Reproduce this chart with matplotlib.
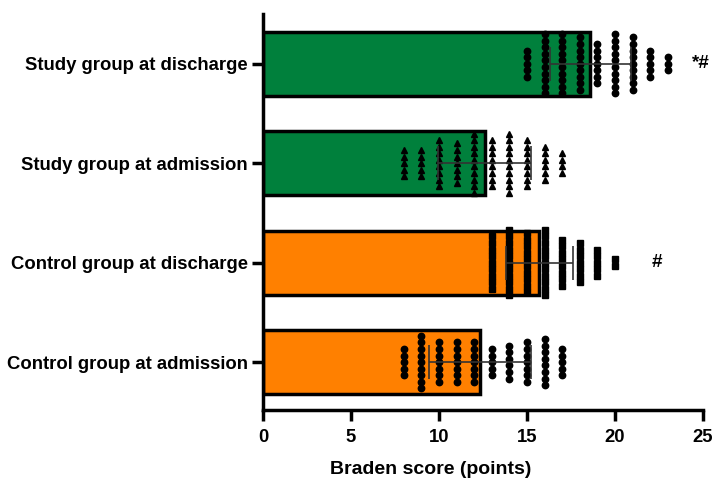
import numpy as np
import matplotlib.pyplot as plt

plt.rcParams['font.family'] = ['Liberation Sans', 'DejaVu Sans']

groups = ['Control group at admission', 'Control group at discharge',
          'Study group at admission', 'Study group at discharge']
means = [12.3, 15.7, 12.6, 18.6]
sds = [2.9, 1.9, 2.65, 2.3]
colors = ['#ff8000', '#ff8000', '#00803c', '#00803c']
notes = ['', '#', '', '*#']

# individual scores: value -> number of patients
ctrl_adm_scores = [8, 9, 10, 11, 12, 13, 14, 15, 16, 17]
ctrl_adm_counts = [5, 9, 7, 7, 7, 5, 6, 7, 8, 5]
ctrl_dis_scores = [13, 14, 15, 16, 17, 18, 19, 20]
ctrl_dis_counts = [9, 11, 10, 11, 8, 7, 5, 2]
study_adm_scores = [8, 9, 10, 11, 12, 13, 14, 15, 16, 17]
study_adm_counts = [5, 5, 8, 7, 10, 8, 10, 8, 6, 4]
study_dis_scores = [15, 16, 17, 18, 19, 20, 21, 22, 23]
study_dis_counts = [5, 10, 10, 9, 7, 10, 9, 5, 3]

points = [
    (ctrl_adm_scores, ctrl_adm_counts, 'o', 4.6),
    (ctrl_dis_scores, ctrl_dis_counts, 's', 5.0),
    (study_adm_scores, study_adm_counts, '^', 4.8),
    (study_dis_scores, study_dis_counts, 'o', 4.6),
]

fig = plt.figure(figsize=(7.13, 4.80), dpi=100)
ax = fig.add_axes([0.369, 0.146, 0.617, 0.825])

ypos = np.arange(len(groups))
ax.barh(ypos, means, height=0.64, color=colors, edgecolor='black',
        linewidth=2.5, zorder=1)

step = 0.066
for y, (scores, counts, mk, ms) in zip(ypos, points):
    for s, n in zip(scores, counts):
        offs = (np.arange(n) - (n - 1) / 2) * step
        ax.plot([s] * n, y + offs, linestyle='none', marker=mk,
                markersize=ms, color='black', zorder=3)

ax.errorbar(means, ypos, xerr=sds, fmt='none', ecolor='#333333',
            elinewidth=1.2, capsize=12, capthick=1.2, zorder=4)

for y, m, sd, t in zip(ypos, means, sds, notes):
    if t:
        ax.text(m + sd + (4.5 if t == '#' else 3.5), y, t, ha='left',
                va='center', fontsize=13.5, fontweight='bold', clip_on=False)

ax.set_xlim(0, 25)
ax.set_ylim(-0.48, 3.5)
ax.set_xticks([0, 5, 10, 15, 20, 25])
ax.set_yticks(ypos)
ax.set_yticklabels(groups)

for side in ['top', 'right']:
    ax.spines[side].set_visible(False)
for side in ['left', 'bottom']:
    ax.spines[side].set_linewidth(2.5)

ax.tick_params(axis='both', width=2.5, length=8, labelsize=13.3)
ax.tick_params(axis='y', pad=3)
ax.tick_params(axis='x', pad=6)
for lab in ax.get_xticklabels() + ax.get_yticklabels():
    lab.set_fontweight('bold')

ax.set_xlabel('Braden score (points)', fontsize=14, fontweight='bold')
ax.xaxis.set_label_coords(0.38, -0.13)

fig.savefig('out.png', dpi=100)
